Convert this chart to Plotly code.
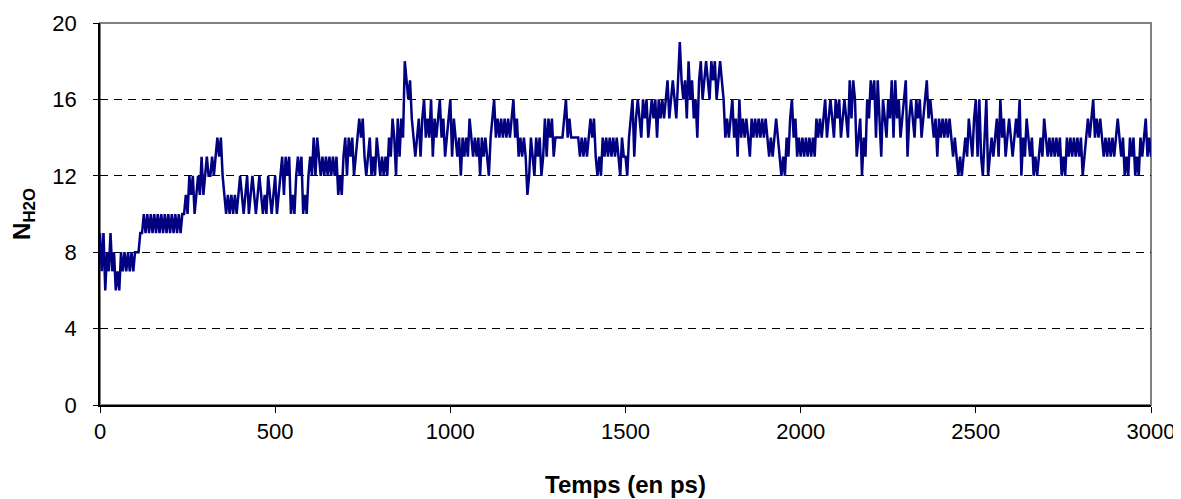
import plotly.graph_objects as go
import numpy as np

#%% Data (one sample every 5 ps)

step = 5  # ps

n_0_495 = [9, 7, 9, 6, 8, 7, 9,
           7, 8, 6, 7, 6, 8,
           7, 8, 7, 8, 7, 8, 7,
           8, 8, 8,
           9, 9, 10,
           9, 10, 9, 10, 9, 10, 9, 10, 9, 10, 9, 10, 9, 10, 9, 10, 9, 10, 9, 10, 9, 10,
           10, 11, 10, 12, 11, 12, 10, 11, 12, 11,
           13, 11, 12, 13, 12,
           12, 13, 12, 13, 14, 13, 14, 12,
           11, 10, 11, 10, 11, 10, 11, 10, 11,
           12, 11, 10, 11, 12, 10, 11, 12, 11,
           10, 11, 12, 11, 10, 11, 10, 12, 11, 10, 11]

n_500_995 = [12, 10, 11,
             12, 13, 11, 13, 12, 13,
             10, 11, 10,
             12, 13, 12, 13,
             10, 11, 10, 12,
             13, 12, 14, 12, 14, 13, 12, 13, 12, 13, 12, 13, 12, 13, 12, 13,
             11, 12, 11,
             13, 14, 12, 14, 13, 14, 12, 13, 14,
             15, 14, 15,
             13, 12, 13, 14, 12, 13, 12, 14, 13, 12, 13, 12, 13, 12,
             14, 13, 15, 14, 12, 15, 13, 15, 14,
             18, 17, 16, 17, 15, 14, 13,
             14, 15, 13, 15, 16, 14, 15, 14, 16, 13, 15, 14, 15, 16, 14, 15, 13, 14, 15]

n_1000_1495 = [16, 13, 15, 14, 13,
               14, 12, 14, 13, 14, 13, 15, 14, 13, 14, 13, 14, 12, 14, 13, 14, 13, 12, 14,
               15, 16, 14, 15, 14, 15, 14, 15, 14, 15, 14, 15, 16, 14, 15,
               13, 14, 13, 14, 13,
               11,
               12, 14, 13, 12, 14, 13, 14, 12, 13,
               15, 13, 15, 14, 15, 13,
               14, 14, 14, 14, 14,
               15, 16, 14, 15, 14,
               14, 14, 14, 14,
               13, 14, 13, 14, 13, 14, 15, 14, 15, 13,
               12, 13, 12, 14, 13, 14, 13, 14, 13, 14, 13, 14, 13, 12, 14, 13]

n_1500_1995 = [13, 12, 14,
               15, 16, 13, 15,
               16, 15, 14, 16, 15, 16, 14, 15, 16, 15, 16, 14, 16, 15, 16, 15, 16,
               17, 15, 16, 17, 16, 15, 17,
               19,
               17, 16, 17, 15, 18, 16, 17, 15, 16, 14, 17,
               18, 16, 17, 18, 17, 16, 18, 17, 18, 16, 17, 18, 17, 16,
               14, 15, 14, 15, 16, 14, 15, 13, 16, 14, 15, 14, 15, 14, 13, 15,
               14, 15, 14, 15, 14, 15, 14, 15, 14, 13, 14, 13, 14, 15, 14, 13,
               12, 13, 12,
               14, 13, 15, 16, 14, 15, 13, 14]

n_2000_2495 = [13, 14, 13, 14, 13, 14, 13, 14, 13,
               15, 14, 15, 14, 15,
               16, 14, 15, 16, 15, 14, 16, 15, 16, 14, 15, 16, 15, 14, 17, 15, 17, 16,
               13, 14, 15, 12, 14, 13,
               16, 15, 17, 16, 17, 14, 17, 15,
               13,
               16, 15, 14, 16, 15, 17, 14, 17, 15, 16, 14, 15, 16, 17, 13,
               15, 16, 15, 14, 16, 15, 16, 14, 15, 16, 17, 15, 16, 15, 14,
               15, 13, 15, 14, 15, 14, 15, 14, 15,
               14, 13, 14, 13,
               12, 13, 12, 13,
               14, 13, 15, 14, 13, 15]

n_2500_3000 = [16, 13, 16,
               13, 12, 14, 16, 12, 13, 14, 13,
               14, 15, 13, 16, 14, 15, 13, 14, 15, 14, 13, 14, 15, 14, 16,
               12,
               14, 13, 15, 14, 13, 14, 12, 13, 12,
               13, 14, 13, 15, 14, 13, 14, 13, 14, 13, 14, 13, 14, 12, 13, 12,
               14, 13, 14, 13, 14, 13, 14, 13, 14, 12, 13, 14,
               15, 14, 15, 16, 14, 15, 14, 15, 14, 13,
               14, 13, 14, 13, 14, 13, 14, 15, 14, 13, 14,
               12, 13, 12, 14, 13, 14, 12, 13, 12, 14,
               13, 14, 15, 13, 14, 13]

n_h2o = n_0_495 + n_500_995 + n_1000_1495 + n_1500_1995 + n_2000_2495 + n_2500_3000
temps = np.arange(len(n_h2o)) * step

x_ticks = [0, 500, 1000, 1500, 2000, 2500, 3000]
y_ticks = [0, 4, 8, 12, 16, 20]

#%% Plotting
font_name = "Liberation Sans, Arial, sans-serif"

fig = go.Figure(go.Scatter(
    x=temps, y=n_h2o,
    mode="lines",
    line=dict(color="#000080", width=2.5),
    showlegend=False,
    hoverinfo="skip",
))

# the page body has an 8px margin, so the figure is a bit smaller than the window
fig.update_layout(
    width=1173, height=491,
    margin=dict(l=92, r=30, t=15, b=94),
    paper_bgcolor="white", plot_bgcolor="white",
    font=dict(family=font_name, size=22, color="black"),
    # gray frame on top and right
    shapes=[dict(type="rect", xref="paper", yref="paper", x0=0, y0=0, x1=1, y1=1,
                 line=dict(color="#808080", width=2), layer="below")],
)

fig.update_xaxes(
    range=[0, 3000], tickvals=x_ticks, automargin=False,
    showline=True, linecolor="black", linewidth=1.5,
    ticks="outside", ticklen=6, tickcolor="black",
    showgrid=False, zeroline=False,
    title=dict(text="<b>Temps (en ps)</b>", font=dict(size=24), standoff=33),
)

fig.update_yaxes(
    range=[0, 20], tickvals=y_ticks, automargin=False,
    showline=True, linecolor="black", linewidth=1.5,
    ticks="outside", ticklen=5, tickcolor="black", ticklabelstandoff=12,
    showgrid=True, gridcolor="black", gridwidth=1, griddash="8px,6px",
    zeroline=False,
    title=dict(text="<b>N<sub>H2O</sub></b>", font=dict(size=24), standoff=30),
)

fig.write_html("out.html")
